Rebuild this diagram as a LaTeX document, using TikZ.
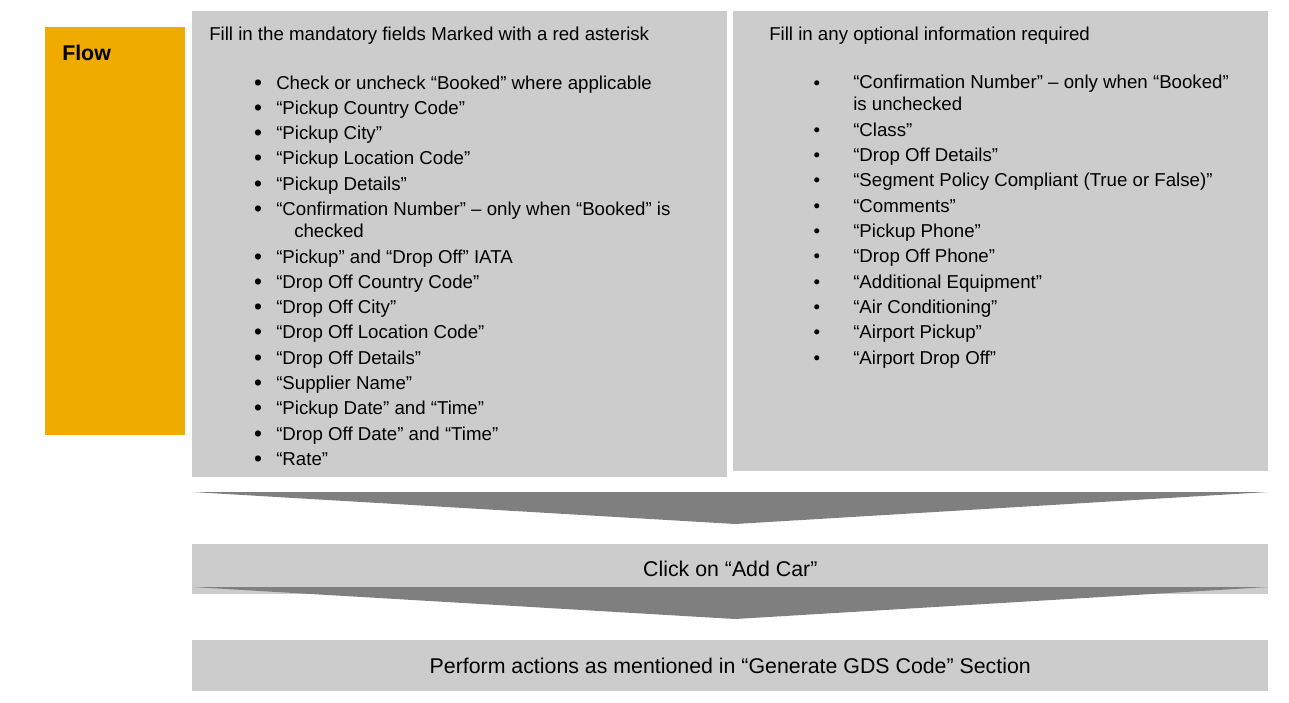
\documentclass[tikz,border=0pt]{standalone}
\usepackage{fontspec}
\setmainfont{Liberation Sans}
\definecolor{flowgold}{RGB}{240,171,0}
\definecolor{boxgray}{RGB}{204,204,204}
\definecolor{chevgray}{RGB}{127,127,127}
\newdimen\px \px=0.75pt
\tikzset{
  panel/.style={fill=boxgray,inner sep=0pt,anchor=north west},
  item/.style={anchor=base west,inner sep=0pt,align=left,
    font=\fontsize{14}{16.5}\selectfont},
  dot/.style={anchor=base,inner sep=0pt,font=\fontsize{14}{16.5}\selectfont},
  bigdot/.style={dot,font=\fontsize{17}{16.5}\selectfont},
  chevron/.style={fill=chevgray}
}
\begin{document}
\begin{tikzpicture}[x=1\px,y=-1\px]
\useasboundingbox (0,0) rectangle (1289,703);
% boxes
\node (flow) [panel,fill=flowgold,minimum width=140\px,minimum height=408\px] at (45,27) {};
\node (mand) [panel,minimum width=535\px,minimum height=466\px] at (192,11) {};
\node (opt) [panel,minimum width=535\px,minimum height=460\px] at (733,11) {};
\node (addcar) [panel,minimum width=1076\px,minimum height=50\px] at (192,544) {};
\node (gds) [panel,minimum width=1076\px,minimum height=51\px] at (192,640) {};
% chevrons
\fill[chevron] (192,492) -- (1268,492) -- (735,524) -- cycle;
\fill[chevron] (192,587) -- (1268,587) -- (735,619) -- cycle;
% texts
\node (flowtitle) [item,font=\fontsize{16}{19}\selectfont\bfseries] at (62,60) {Flow};
\node (mandhead) [item] at (209,40) {Fill in the mandatory fields Marked with a red asterisk};
\node (opthead) [item] at (769,40) {Fill in any optional information required};
\node (addcartext) at (addcar.center) {\fontsize{16}{19}\selectfont Click on “Add Car”};
\node (gdstext) at (gds.center) {\fontsize{16}{19}\selectfont Perform actions as mentioned in “Generate GDS Code” Section};
% mandatory fields
\node (m1d) [bigdot] at (258,90) {•}; \node (m1) [item] at (276,89) {Check or uncheck “Booked” where applicable};
\node (m2d) [bigdot] at (258,115) {•}; \node (m2) [item] at (276,114) {“Pickup Country Code”};
\node (m3d) [bigdot] at (258,140) {•}; \node (m3) [item] at (276,139) {“Pickup City”};
\node (m4d) [bigdot] at (258,165) {•}; \node (m4) [item] at (276,164) {“Pickup Location Code”};
\node (m5d) [bigdot] at (258,191) {•}; \node (m5) [item] at (276,190) {“Pickup Details”};
\node (m6d) [bigdot] at (258,216) {•}; \node (m6) [item] at (276,237) {“Confirmation Number” – only when “Booked” is\\\hspace*{13.5pt}checked};
\node (m7d) [bigdot] at (258,264) {•}; \node (m7) [item] at (276,263) {“Pickup” and “Drop Off” IATA};
\node (m8d) [bigdot] at (258,289) {•}; \node (m8) [item] at (276,288) {“Drop Off Country Code”};
\node (m9d) [bigdot] at (258,314) {•}; \node (m9) [item] at (276,313) {“Drop Off City”};
\node (m10d) [bigdot] at (258,339) {•}; \node (m10) [item] at (276,338) {“Drop Off Location Code”};
\node (m11d) [bigdot] at (258,365) {•}; \node (m11) [item] at (276,364) {“Drop Off Details”};
\node (m12d) [bigdot] at (258,390) {•}; \node (m12) [item] at (276,389) {“Supplier Name”};
\node (m13d) [bigdot] at (258,415) {•}; \node (m13) [item] at (276,414) {“Pickup Date” and “Time”};
\node (m14d) [bigdot] at (258,441) {•}; \node (m14) [item] at (276,440) {“Drop Off Date” and “Time”};
\node (m15d) [bigdot] at (258,466) {•}; \node (m15) [item] at (276,465) {“Rate”};
% optional fields
\node (o1d) [dot] at (817,89) {•}; \node (o1) [item] at (853,110) {“Confirmation Number” – only when “Booked”\\is unchecked};
\node (o2d) [dot] at (817,136) {•}; \node (o2) [item] at (853,136) {“Class”};
\node (o3d) [dot] at (817,161) {•}; \node (o3) [item] at (853,161) {“Drop Off Details”};
\node (o4d) [dot] at (817,186) {•}; \node (o4) [item] at (853,186) {“Segment Policy Compliant (True or False)”};
\node (o5d) [dot] at (817,212) {•}; \node (o5) [item] at (853,212) {“Comments”};
\node (o6d) [dot] at (817,237) {•}; \node (o6) [item] at (853,237) {“Pickup Phone”};
\node (o7d) [dot] at (817,262) {•}; \node (o7) [item] at (853,262) {“Drop Off Phone”};
\node (o8d) [dot] at (817,288) {•}; \node (o8) [item] at (853,288) {“Additional Equipment”};
\node (o9d) [dot] at (817,313) {•}; \node (o9) [item] at (853,313) {“Air Conditioning”};
\node (o10d) [dot] at (817,338) {•}; \node (o10) [item] at (853,338) {“Airport Pickup”};
\node (o11d) [dot] at (817,364) {•}; \node (o11) [item] at (853,364) {“Airport Drop Off”};
\end{tikzpicture}
\end{document}
